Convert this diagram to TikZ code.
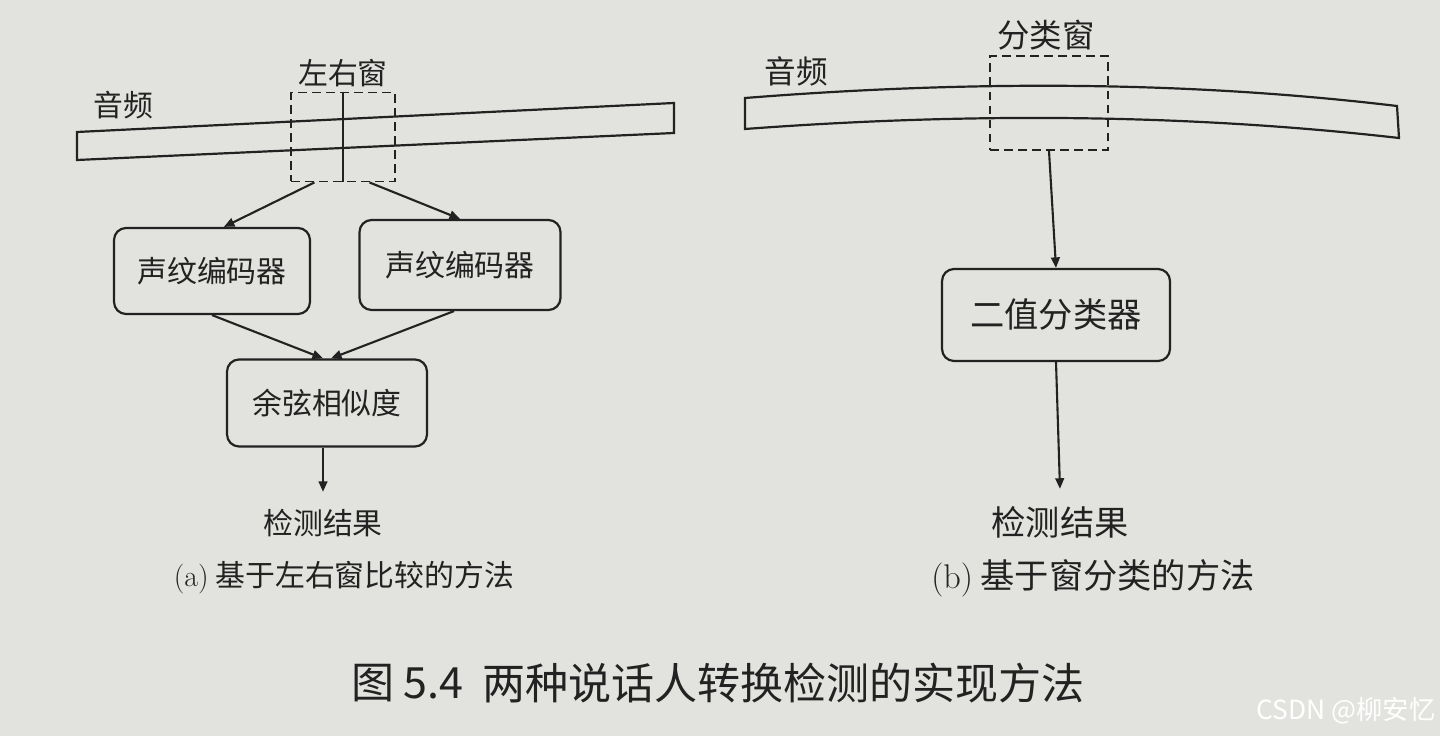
\documentclass[tikz,border=0pt]{standalone}
\usepackage{fontspec}
\newfontfamily\cjk{Noto Sans CJK SC}
\usetikzlibrary{arrows.meta,calc}
\definecolor{paper}{RGB}{226,226,222}
\definecolor{ink}{RGB}{34,34,34}
\tikzset{
    stripline/.style={draw=ink, line width=1.25pt},
    flow/.style={draw=ink, line width=1.2pt, -{Triangle[length=6pt,width=5pt]}},
    window/.style={draw=ink, line width=1.1pt, dash pattern=on 5pt off 3pt, inner sep=0pt},
    box/.style={draw=ink, line width=1.25pt, rounded corners=0.24cm, text=ink},
    lbl/.style={text=ink, inner sep=1pt},
    result/.style={text=ink, inner sep=0.34cm},
}
\newcommand{\leftsize}{\cjk\fontsize{17}{20}\selectfont}
\newcommand{\rightsize}{\cjk\fontsize{19.5}{23}\selectfont}

\begin{document}
\begin{tikzpicture}[x=0.02cm, y=-0.02cm]
    \useasboundingbox [fill=paper] (0,0) rectangle (1440,736);

    % (a) left/right window
    \draw [stripline] (77,132) -- (674,103) -- (674,133) -- (77,160) -- cycle;
    \node [lbl, font=\leftsize] (audA) at (123,105) {音频};
    \node [window, minimum width=2.08cm, minimum height=1.78cm] (winA) at (343,137) {};
    \draw [stripline, line width=1.1pt] (winA.north) -- (winA.south);
    \node [lbl, font=\leftsize] (winAtext) at (343,73) {左右窗};

    \node [box, font=\leftsize, minimum width=3.92cm, minimum height=1.72cm] (encL) at (212,271) {声纹编码器};
    \node [box, font=\leftsize, minimum width=4.02cm, minimum height=1.8cm] (encR) at (460,265) {声纹编码器};
    \node [box, font=\leftsize, minimum width=4cm, minimum height=1.74cm] (cos) at (327,403) {余弦相似度};
    \node [result, font=\leftsize] (resA) at (323,523) {检测结果};

    \draw [flow] ($(winA.south west)!0.23!(winA.south east)$) -- ($(encL.north west)!0.56!(encL.north east)$);
    \draw [flow] ($(winA.south west)!0.75!(winA.south east)$) -- (encR.north);
    \draw [flow] (encL.south) -- ($(cos.north)+(-4,0)$);
    \draw [flow] ($(encR.south)+(-6,0)$) -- ($(cos.north)+(4,0)$);
    \draw [flow] ($(cos.south)+(-4,0)$) -- (resA.north);

    \node [lbl, font=\leftsize] (capA) at (344,578) {{\rmfamily (a)} 基于左右窗比较的方法};

    % (b) classification window
    \draw [stripline] (745,98) .. controls (960,81) and (1180,80) .. (1397,106)
        -- (1399,138) .. controls (1180,113) and (960,113) .. (745,129) -- cycle;
    \node [lbl, font=\cjk\fontsize{18}{21}\selectfont] (audB) at (796,71) {音频};
    \node [window, minimum width=2.36cm, minimum height=1.88cm] (winB) at (1049,103) {};
    \node [lbl, font=\cjk\fontsize{18.5}{22}\selectfont] (winBtext) at (1046,35) {分类窗};

    \node [box, font=\rightsize, minimum width=4.56cm, minimum height=1.84cm] (cls) at (1056,315) {二值分类器};
    \node [result, font=\rightsize] (resB) at (1060,522) {检测结果};

    \draw [flow] (winB.south) -- (cls.north);
    \draw [flow] (cls.south) -- (resB.north);

    \node [lbl, font=\rightsize] (capB) at (1093,578) {{\rmfamily (b)} 基于窗分类的方法};

    % caption
    \node [lbl, anchor=west, font=\cjk\fontsize{24.5}{28}\selectfont] (figno) at (349,683) {图 5.4};
    \node [lbl, anchor=west, font=\cjk\fontsize{24.5}{28}\selectfont] (figtitle) at (480,683) {两种说话人转换检测的实现方法};
    \node [anchor=east, inner sep=0pt, text=white, font=\cjk\fontsize{15}{18}\selectfont] (mark) at (1436,711) {CSDN @柳安忆};
\end{tikzpicture}
\end{document}
